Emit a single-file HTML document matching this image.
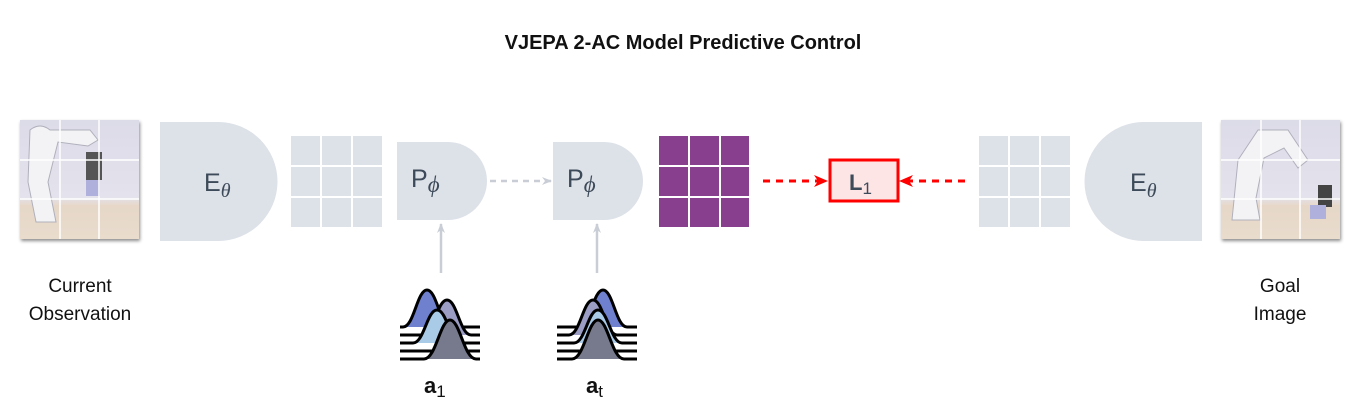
<!DOCTYPE html>
<html><head><meta charset="utf-8"><style>
body{margin:0;background:#fff;}
svg{display:block}
text{font-family:"Liberation Sans","DejaVu Sans",sans-serif}
</style></head><body>
<svg width="1365" height="413" viewBox="0 0 1365 413" xmlns="http://www.w3.org/2000/svg">
<defs>
<linearGradient id="img" x1="0" y1="0" x2="0" y2="1">
<stop offset="0" stop-color="#dcdbe8"/><stop offset="0.65" stop-color="#e4e2ec"/><stop offset="0.72" stop-color="#e6d7c8"/><stop offset="1" stop-color="#e9dccd"/>
</linearGradient>
<filter id="sh" x="-10%" y="-10%" width="125%" height="125%"><feDropShadow dx="1" dy="2" stdDeviation="1.5" flood-color="#000" flood-opacity="0.45"/></filter>
<marker id="ag" markerWidth="10" markerHeight="10" refX="9" refY="5" orient="auto" markerUnits="userSpaceOnUse"><path d="M0,1 L10,5 L0,9 L3,5 Z" fill="#c9ced6"/></marker>
<marker id="ar" markerWidth="14" markerHeight="12" refX="13" refY="6" orient="auto" markerUnits="userSpaceOnUse"><path d="M0,0 L14,6 L0,12 L4,6 Z" fill="#f00"/></marker>
</defs>
<text x="683" y="49" text-anchor="middle" font-size="20" font-weight="bold" fill="#111">VJEPA 2-AC Model Predictive Control</text>

<!-- left image -->
<g filter="url(#sh)"><rect x="20" y="120" width="119" height="119" fill="url(#img)"/></g>
<g fill="#f3f3f6" stroke="#b0b0bc" stroke-width="1">
<path d="M30 130 q10 -8 20 0 l40 0 l8 10 l-10 6 l-30 -4 l-10 40 l8 40 l-20 0 l-8 -40 z"/>
</g>
<rect x="86" y="152" width="16" height="28" fill="#555"/>
<rect x="86" y="180" width="14" height="16" fill="#b0b0dc"/>
<g stroke="#fff" stroke-width="1.5"><line x1="60" y1="120" x2="60" y2="239"/><line x1="99" y1="120" x2="99" y2="239"/><line x1="20" y1="160" x2="139" y2="160"/><line x1="20" y1="199" x2="139" y2="199"/></g>

<!-- right image -->
<g filter="url(#sh)"><rect x="1221" y="120" width="119" height="119" fill="url(#img)"/></g>
<g fill="#f3f3f6" stroke="#b0b0bc" stroke-width="1">
<path d="M1232 220 l6 -60 l20 -30 l30 0 l20 30 l-10 8 l-14 -20 l-20 10 l-8 40 l4 22 z"/>
</g>
<rect x="1318" y="185" width="14" height="22" fill="#444"/>
<rect x="1310" y="205" width="16" height="14" fill="#b0b0dc"/>
<g stroke="#fff" stroke-width="1.5"><line x1="1261" y1="120" x2="1261" y2="239"/><line x1="1300" y1="120" x2="1300" y2="239"/><line x1="1221" y1="160" x2="1340" y2="160"/><line x1="1221" y1="199" x2="1340" y2="199"/></g>

<!-- encoders -->
<path d="M160 122 H218 A59.5 59.5 0 0 1 218 241 H160 Z" fill="#dde1e8"/>
<text x="204" y="191" font-size="25" fill="#3d4a59">E<tspan font-family="Liberation Serif" font-style="italic" font-size="20" dy="6">θ</tspan></text>
<path d="M1202 122 H1144 A59.5 59.5 0 0 0 1144 241 H1202 Z" fill="#dde1e8"/>
<text x="1130" y="191" font-size="25" fill="#3d4a59">E<tspan font-family="Liberation Serif" font-style="italic" font-size="20" dy="6">θ</tspan></text>

<!-- grids -->
<g fill="#dde1e8">
<rect x="291" y="136" width="29" height="29"/><rect x="322" y="136" width="29" height="29"/><rect x="353" y="136" width="29" height="29"/>
<rect x="291" y="167" width="29" height="29"/><rect x="322" y="167" width="29" height="29"/><rect x="353" y="167" width="29" height="29"/>
<rect x="291" y="198" width="29" height="29"/><rect x="322" y="198" width="29" height="29"/><rect x="353" y="198" width="29" height="29"/>
<rect x="979" y="136" width="29" height="29"/><rect x="1010" y="136" width="29" height="29"/><rect x="1041" y="136" width="29" height="29"/>
<rect x="979" y="167" width="29" height="29"/><rect x="1010" y="167" width="29" height="29"/><rect x="1041" y="167" width="29" height="29"/>
<rect x="979" y="198" width="29" height="29"/><rect x="1010" y="198" width="29" height="29"/><rect x="1041" y="198" width="29" height="29"/>
</g>
<g fill="#883f8e">
<rect x="659" y="136" width="29" height="29"/><rect x="690" y="136" width="29" height="29"/><rect x="721" y="136" width="28" height="29"/>
<rect x="659" y="167" width="29" height="29"/><rect x="690" y="167" width="29" height="29"/><rect x="721" y="167" width="28" height="29"/>
<rect x="659" y="198" width="29" height="29"/><rect x="690" y="198" width="29" height="29"/><rect x="721" y="198" width="28" height="29"/>
</g>

<!-- predictors -->
<path d="M397 142 H448 A39 39 0 0 1 448 220 H397 Z" fill="#dde1e8"/>
<text x="411" y="187" font-size="25" fill="#3d4a59">P<tspan font-family="Liberation Serif" font-style="italic" font-size="23" dy="5">ϕ</tspan></text>
<path d="M553 142 H604 A39 39 0 0 1 604 220 H553 Z" fill="#dde1e8"/>
<text x="567" y="187" font-size="25" fill="#3d4a59">P<tspan font-family="Liberation Serif" font-style="italic" font-size="23" dy="5">ϕ</tspan></text>

<line x1="490" y1="181" x2="551" y2="181" stroke="#c9ced6" stroke-width="2.5" stroke-dasharray="6,5" marker-end="url(#ag)"/>
<line x1="441" y1="273" x2="441" y2="224" stroke="#c9ced6" stroke-width="2.5" marker-end="url(#ag)"/>
<line x1="597" y1="273" x2="597" y2="224" stroke="#c9ced6" stroke-width="2.5" marker-end="url(#ag)"/>

<!-- loss -->
<line x1="763" y1="181" x2="827" y2="181" stroke="#f00" stroke-width="3" stroke-dasharray="7,6" marker-end="url(#ar)"/>
<line x1="965" y1="181" x2="900" y2="181" stroke="#f00" stroke-width="3" stroke-dasharray="7,6" marker-end="url(#ar)"/>
<rect x="830" y="160" width="68" height="41" fill="#fde5e5" stroke="#f00" stroke-width="3"/>
<text x="849" y="190" font-size="22" font-weight="bold" fill="#3d4a59">L<tspan font-weight="normal" font-size="17" dy="4">1</tspan></text>

<!-- distributions a1 -->
<g stroke="#000" stroke-width="3" stroke-linejoin="round">
<path d="M400 327 H403 C414 327 417 290 427 290 C437 290 440 327 451 327 H480" fill="#6f80cf"/>
<path d="M400 335 H423 C434 335 437 300 447 300 C457 300 460 335 471 335 H480" fill="#9b9dc4"/>
<path d="M400 343 H413 C424 343 427 310 437 310 C447 310 450 343 461 343 H480" fill="#aacbe8"/>
<path d="M400 351 H480" fill="none"/>
<path d="M400 359 H424 C436 359 440 320 450 320 C460 320 464 359 476 359 H480" fill="#777a8c"/>
</g>
<!-- at -->
<g stroke="#000" stroke-width="3" stroke-linejoin="round">
<path d="M557 327 H579 C590 327 593 290 603 290 C613 290 616 327 627 327 H637" fill="#6f80cf"/>
<path d="M557 335 H569 C580 335 583 300 593 300 C603 300 606 335 617 335 H637" fill="#9b9dc4"/>
<path d="M557 343 H574 C585 343 588 310 598 310 C608 310 611 343 622 343 H637" fill="#aacbe8"/>
<path d="M557 351 H637" fill="none"/>
<path d="M557 359 H572 C584 359 588 320 598 320 C608 320 612 359 624 359 H637" fill="#777a8c"/>
</g>
<text x="424" y="393" font-size="22" font-weight="bold" fill="#111">a<tspan font-weight="normal" font-size="17" dy="4">1</tspan></text>
<text x="586" y="393" font-size="22" font-weight="bold" fill="#111">a<tspan font-weight="normal" font-size="17" dy="4">t</tspan></text>

<g font-size="19" fill="#111" text-anchor="middle">
<text x="80" y="292">Current</text><text x="80" y="320">Observation</text>
<text x="1280" y="292">Goal</text><text x="1280" y="320">Image</text>
</g>
</svg>
</body></html>
